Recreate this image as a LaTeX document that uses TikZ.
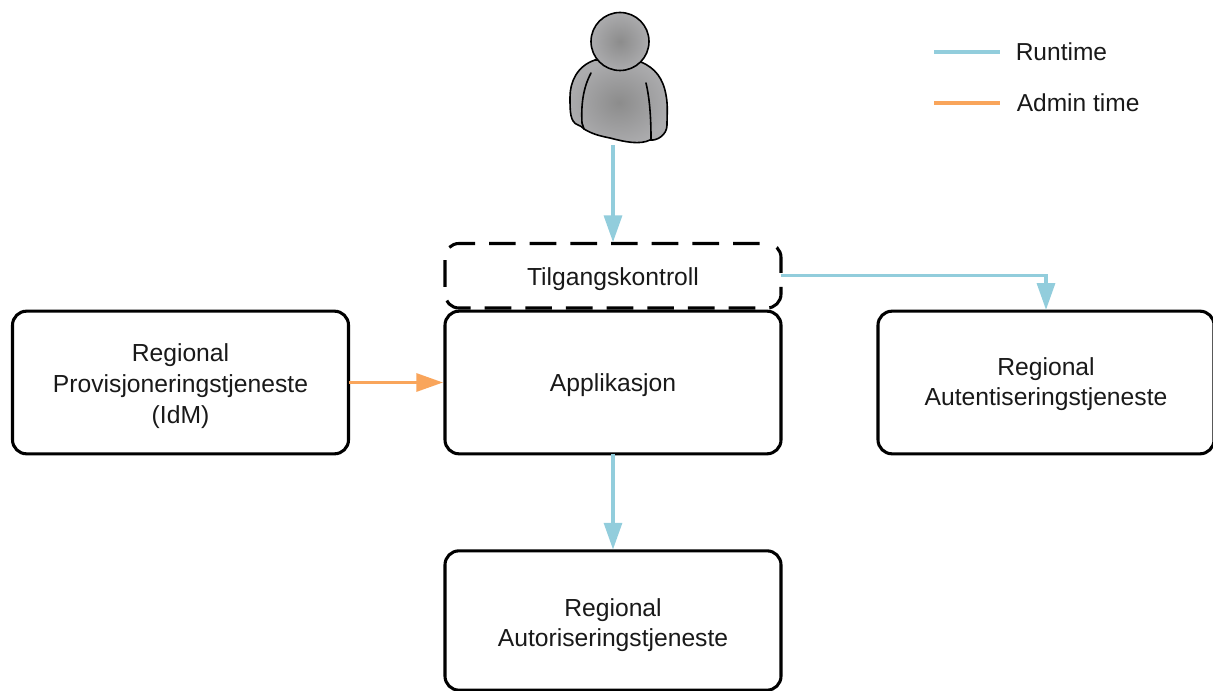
\documentclass[tikz,border=0pt]{standalone}
\usepackage{fontspec}
\setmainfont{Liberation Sans}
\usetikzlibrary{arrows.meta,positioning,shapes.misc}
\definecolor{runcol}{HTML}{92CDDC}
\definecolor{admcol}{HTML}{F9A55B}
\definecolor{persmid}{HTML}{8C8C8C}
\definecolor{persout}{HTML}{ABABAD}
\tikzset{
  x=0.75pt,y=-0.75pt,
  boxnode/.style={draw=black,line width=2.3pt,rounded corners=10.5pt,fill=white,inner sep=0pt,outer sep=0pt},
  boxlabel/.style={inner sep=0pt,align=center,font=\fontsize{18.5}{22.4}\selectfont,text=black!90},
  legendtext/.style={inner sep=0pt,font=\fontsize{18.4}{23.5}\selectfont,text=black!90},
  runconn/.style={draw=runcol,line width=2.3pt,shorten >=1pt,-{Triangle[length=20pt,width=13.5pt]}},
  admconn/.style={draw=admcol,line width=2.3pt,shorten >=1.5pt,-{Triangle[length=20pt,width=13.5pt]}},
  runleg/.style={draw=runcol,line width=2.3pt},
  admleg/.style={draw=admcol,line width=2.3pt},
  persline/.style={draw=black,line width=1.2pt,line cap=round,line join=round},
}
\begin{document}
\begin{tikzpicture}
\useasboundingbox (0,0) rectangle (1213,691);
% boxes
\node[boxnode,minimum width=252pt,minimum height=107pt] (app) at (613,382.5) {};
\node[boxnode,minimum width=252pt,minimum height=48.4pt,fill=none,dash pattern=on 20pt off 10.5pt,dash phase=25pt] (tilg) at (613,275.75) {};
\node[boxnode,minimum width=252pt,minimum height=107pt] (prov) at (180.5,382.5) {};
\node[boxnode,minimum width=252pt,minimum height=107pt] (auth) at (1046,382.5) {};
\node[boxnode,minimum width=252pt,minimum height=104.5pt] (autz) at (613,620.5) {};
% box texts
\node[boxlabel] (applab) at (613,385) {Applikasjon};
\node[boxlabel] (tilglab) at (613,279) {Tilgangskontroll};
\node[boxlabel,font=\fontsize{18.5}{23.4}\selectfont] (provlab) at (180.5,386) {Regional\\Provisjoneringstjeneste\\(IdM)};
\node[boxlabel] (authlab) at (1046,384.5) {Regional\\Autentiseringstjeneste};
\node[boxlabel] (autzlab) at (613,625.5) {Regional\\Autoriseringstjeneste};
% person
\shade[inner color=persmid,outer color=persout,persline]
  (595,60) .. controls (577,66) and (570,82) .. (570,97)
  .. controls (570,112) and (570,122) .. (578,125)
  .. controls (581,126) and (582,127) .. (584,129)
  .. controls (592,134) and (600,136) .. (610,138)
  .. controls (625,142) and (640,145) .. (650,140)
  .. controls (657,141) and (667,135) .. (667,125)
  .. controls (667,115) and (668,105) .. (666,95)
  .. controls (663,78) and (655,68) .. (641,62)
  -- cycle;
\draw[persline] (591,73) .. controls (583,88) and (581,105) .. (582,123) -- (584,129);
\draw[persline] (646,83) .. controls (650,100) and (651,120) .. (651,139);
\shade[inner color=persmid,outer color=persout,persline] (620,41.5) circle[radius=29];
\node[inner sep=0pt,minimum size=0pt] (person) at (613,145) {};
% legend
\coordinate (runa) at (934,52);
\coordinate (runb) at (1000,52);
\coordinate (adma) at (934,103);
\coordinate (admb) at (1000,103);
\draw[runleg] (runa) -- (runb);
\draw[admleg] (adma) -- (admb);
\node[legendtext,anchor=west] (runlab) at (1015.5,51.5) {Runtime};
\node[legendtext,anchor=west] (admlab) at (1016.5,102.5) {Admin time};
% connectors
\draw[runconn] (person) -- (tilg.north);
\draw[runconn] (tilg.east) -| (auth.north);
\draw[admconn] (prov.east) -- (app.west);
\draw[runconn] (app.south) -- (autz.north);
\end{tikzpicture}
\end{document}
